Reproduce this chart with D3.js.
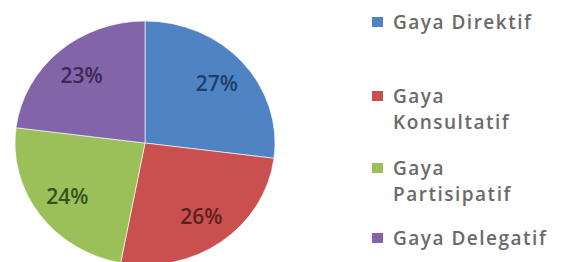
<!DOCTYPE html>
<html>
<head>
<meta charset="utf-8">
<script src="https://cdn.jsdelivr.net/npm/d3@7"></script>
<style>
  body { margin: 0; background: #fff; }
  svg { display: block; font-family: "Open Sans", sans-serif; }
</style>
</head>
<body>
<div id="plot"></div>
<script>
// chart data
const categories = ["Gaya Direktif", "Gaya Konsultatif", "Gaya Partisipatif", "Gaya Delegatif"];
const values = [27, 26, 24, 23];
const colors = ["#4f84c4", "#c9504e", "#9bbf59", "#8264a8"];
const labelColors = ["#1f3d6b", "#5e1f1f", "#34531a", "#3b2a55"];
// legend wording, wrapped the way the original legend wraps
const legendLines = [["Gaya Direktif"], ["Gaya", "Konsultatif"], ["Gaya", "Partisipatif"], ["Gaya Delegatif"]];

const width = 566, height = 262;
const cx = 145, cy = 143;
const r = 122;          // vertical radius
const sx = 130 / 122;   // pie is a bit wider than tall

const svg = d3.select("#plot")
    .append("svg")
    .attr("width", width)
    .attr("height", height);

const data = categories.map((c, i) => ({ category: c, value: values[i], i: i }));

const pie = d3.pie()
    .sort(null)
    .value(d => d.value);

const arc = d3.arc().innerRadius(0).outerRadius(r);
const labelArc = d3.arc().innerRadius(90).outerRadius(90);

const g = svg.append("g")
    .attr("transform", `translate(${cx},${cy}) scale(${sx},1)`);

const arcs = pie(data);

g.selectAll("path")
    .data(arcs)
    .enter()
    .append("path")
    .attr("d", arc)
    .attr("fill", d => colors[d.data.i])
    .attr("stroke", "#fff")
    .attr("stroke-width", 0.6);

// percentage labels (drawn outside the scaled group so text isn't stretched)
const total = d3.sum(values);
svg.selectAll(".pct")
    .data(arcs)
    .enter()
    .append("text")
    .attr("class", "pct")
    .attr("x", d => cx + labelArc.centroid(d)[0] * sx)
    .attr("y", d => cy + labelArc.centroid(d)[1])
    .attr("text-anchor", "middle")
    .attr("dominant-baseline", "central")
    .attr("font-size", 21)
    .attr("font-weight", 600)
    .attr("fill", d => labelColors[d.data.i])
    .text(d => Math.round(d.data.value / total * 100) + "%");

// legend
const legendY = [22, 96, 168, 238];
const lineH = 26;
const legend = svg.append("g");

legendLines.forEach((lines, i) => {
    legend.append("rect")
        .attr("x", 372)
        .attr("y", legendY[i] - 5)
        .attr("width", 11)
        .attr("height", 10)
        .attr("fill", colors[i]);

    lines.forEach((t, j) => {
        legend.append("text")
            .attr("x", 393)
            .attr("y", legendY[i] + j * lineH)
            .attr("dominant-baseline", "central")
            .attr("font-size", 19)
            .attr("font-weight", 600)
            .attr("letter-spacing", 1.5)
            .attr("fill", "#6a6a6a")
            .text(t);
    });
});
</script>
</body>
</html>
